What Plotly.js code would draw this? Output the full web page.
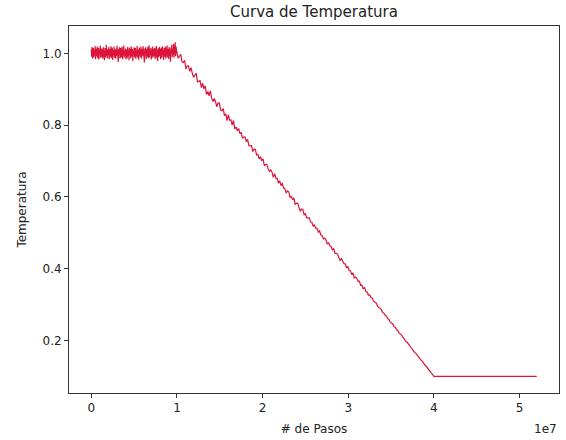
<!DOCTYPE html>
<html>
<head>
<meta charset="utf-8">
<script src="https://cdn.plot.ly/plotly-3.0.1.min.js"></script>
<style>html,body{margin:0;padding:0;background:#fff;}#chart{width:566px;height:440px;}</style>
</head>
<body>
<div id="chart"></div>
<script>
// Plateau phase: samples every 5e4 steps from 0 to 9.95e6
const plateauStep = 5e4;
const plateauTemp = [
1.012,0.991,1.018,0.986,1.004,1.015,0.989,1.009,0.995,1.021,
0.984,1.007,1.013,0.992,1.019,0.987,1.002,1.016,0.983,1.010,
0.997,1.022,0.988,1.006,1.014,0.990,1.011,0.985,1.017,0.994,
1.008,0.981,1.015,1.001,0.989,1.024,0.993,1.010,0.986,1.013,
0.996,1.018,0.984,1.005,1.012,0.991,1.020,0.987,1.003,1.016,
0.982,1.009,0.995,1.019,0.988,1.011,1.001,0.985,1.014,0.993,
1.021,0.990,1.006,0.976,1.012,0.998,1.017,0.986,1.008,1.015,
0.989,1.003,1.019,0.984,1.010,0.995,1.022,0.988,1.007,0.992,
1.014,0.983,1.011,1.000,0.987,1.018,0.994,1.009,0.981,1.016,
0.997,1.012,0.986,1.020,0.991,1.005,1.013,0.978,1.008,0.996,
1.017,0.989,1.004,1.015,0.985,1.010,0.993,1.021,0.988,1.006,
1.011,0.982,1.016,0.997,1.008,0.990,1.019,0.986,1.002,1.013,
0.994,1.020,0.987,1.009,0.975,1.014,0.999,1.017,0.984,1.007,
1.012,0.991,1.018,0.986,1.004,1.023,0.989,1.010,0.995,1.015,
0.983,1.008,0.997,1.019,0.988,1.013,0.992,1.006,1.016,0.985,
1.011,0.996,1.021,0.987,1.009,0.979,1.014,1.001,0.990,1.018,
0.993,1.012,0.984,1.016,1.003,0.988,1.020,0.995,1.010,0.982,
1.015,0.991,1.007,1.019,0.986,1.012,0.997,1.022,0.989,1.005,
1.013,0.984,1.018,0.994,1.009,0.977,1.016,1.002,1.024,0.990,
1.011,0.996,1.026,0.988,1.017,1.004,1.031,0.992,1.019,1.008
];
// Cooling phase: samples every 1.5e5 steps from 1e7 to 4e7
const coolStart = 1e7;
const coolStep = 1.5e5;
const coolTemp = [
1.0040,0.9865,0.9930,0.9975,0.9760,0.9745,0.9810,0.9565,0.9650,0.9655,
0.9500,0.9605,0.9440,0.9335,0.9400,0.9445,0.9210,0.9235,0.9240,0.9045,
0.9170,0.9015,0.9100,0.8855,0.8940,0.8815,0.8960,0.8755,0.8660,0.8745,
0.8660,0.8515,0.8620,0.8615,0.8420,0.8405,0.8460,0.8265,0.8320,0.8125,
0.8290,0.8145,0.8150,0.8005,0.8130,0.7895,0.7950,0.7845,0.7910,0.7765,
0.7800,0.7635,0.7670,0.7675,0.7540,0.7605,0.7430,0.7425,0.7430,0.7265,
0.7330,0.7325,0.7170,0.7185,0.7060,0.7125,0.7010,0.7065,0.6870,0.6905,
0.6910,0.6775,0.6710,0.6755,0.6690,0.6545,0.6650,0.6525,0.6520,0.6385,
0.6450,0.6315,0.6390,0.6245,0.6230,0.6105,0.6170,0.6145,0.5990,0.6015,
0.5920,0.5975,0.5800,0.5825,0.5820,0.5705,0.5600,0.5665,0.5650,0.5505,
0.5530,0.5415,0.5420,0.5415,0.5300,0.5295,0.5180,0.5225,0.5130,0.5125,
0.5020,0.5055,0.4940,0.4925,0.4830,0.4855,0.4800,0.4685,0.4730,0.4635,
0.4620,0.4525,0.4560,0.4425,0.4430,0.4405,0.4310,0.4235,0.4280,0.4215,
0.4140,0.4135,0.4020,0.4065,0.3950,0.3935,0.3850,0.3875,0.3740,0.3765,
0.3730,0.3645,0.3650,0.3535,0.3540,0.3435,0.3480,0.3365,0.3350,0.3265,
0.3270,0.3195,0.3180,0.3095,0.3080,0.3045,0.2970,0.2915,0.2900,0.2865,
0.2780,0.2765,0.2700,0.2685,0.2610,0.2585,0.2510,0.2495,0.2460,0.2385,
0.2360,0.2295,0.2270,0.2195,0.2180,0.2135,0.2070,0.2045,0.1980,0.1955,
0.1890,0.1865,0.1810,0.1755,0.1730,0.1665,0.1640,0.1585,0.1530,0.1505,
0.1450,0.1415,0.1350,0.1315,0.1280,0.1225,0.1170,0.1135,0.1090,0.1045,
0.1000
];
// Final phase: constant temperature
const finalSteps = [4.3e7, 4.6e7, 4.9e7, 5.2e7];
const finalTemp = [0.100, 0.100, 0.100, 0.100];

const xTickVals = [0, 1e7, 2e7, 3e7, 4e7, 5e7];
const xTickText = ['0', '1', '2', '3', '4', '5'];
const yTickVals = [0.2, 0.4, 0.6, 0.8, 1.0];
const yTickText = ['0.2', '0.4', '0.6', '0.8', '1.0'];

const xs = [], ys = [];
plateauTemp.forEach((v, i) => { xs.push(i * plateauStep); ys.push(v); });
coolTemp.forEach((v, i) => { xs.push(coolStart + i * coolStep); ys.push(v); });
finalTemp.forEach((v, i) => { xs.push(finalSteps[i]); ys.push(v); });

const font = {family: 'DejaVu Sans, sans-serif', size: 12, color: '#222'};

Plotly.newPlot('chart', [{
  x: xs, y: ys, type: 'scatter', mode: 'lines',
  line: {color: '#DC143C', width: 1.2}
}], {
  width: 566, height: 440,
  margin: {l: 69, r: 7, t: 26, b: 47},
  paper_bgcolor: '#fff', plot_bgcolor: '#fff',
  font: font,
  showlegend: false,
  title: {text: 'Curva de Temperatura', x: 0.5, xref: 'paper', y: 0.973, yanchor: 'middle',
          font: {family: 'DejaVu Sans, sans-serif', size: 15, color: '#222'}},
  xaxis: {
    range: [-0.26e7, 5.46e7],
    tickvals: xTickVals, ticktext: xTickText,
    ticks: 'outside', ticklen: 4, tickcolor: '#333', tickwidth: 1,
    showline: true, linecolor: '#333', linewidth: 1, mirror: true,
    showgrid: false, zeroline: false,
    title: {text: '# de Pasos', font: font, standoff: 10}
  },
  yaxis: {
    range: [0.0535, 1.0765],
    tickvals: yTickVals, ticktext: yTickText,
    ticks: 'outside', ticklen: 4, tickcolor: '#333', tickwidth: 1,
    showline: true, linecolor: '#333', linewidth: 1, mirror: true,
    showgrid: false, zeroline: false,
    title: {text: 'Temperatura', font: font, standoff: 13}
  },
  annotations: [{
    text: '1e7', xref: 'paper', yref: 'paper', x: 1, y: 0,
    xanchor: 'right', yanchor: 'top', yshift: -27, showarrow: false,
    font: font
  }]
}, {staticPlot: true});
</script>
</body>
</html>
